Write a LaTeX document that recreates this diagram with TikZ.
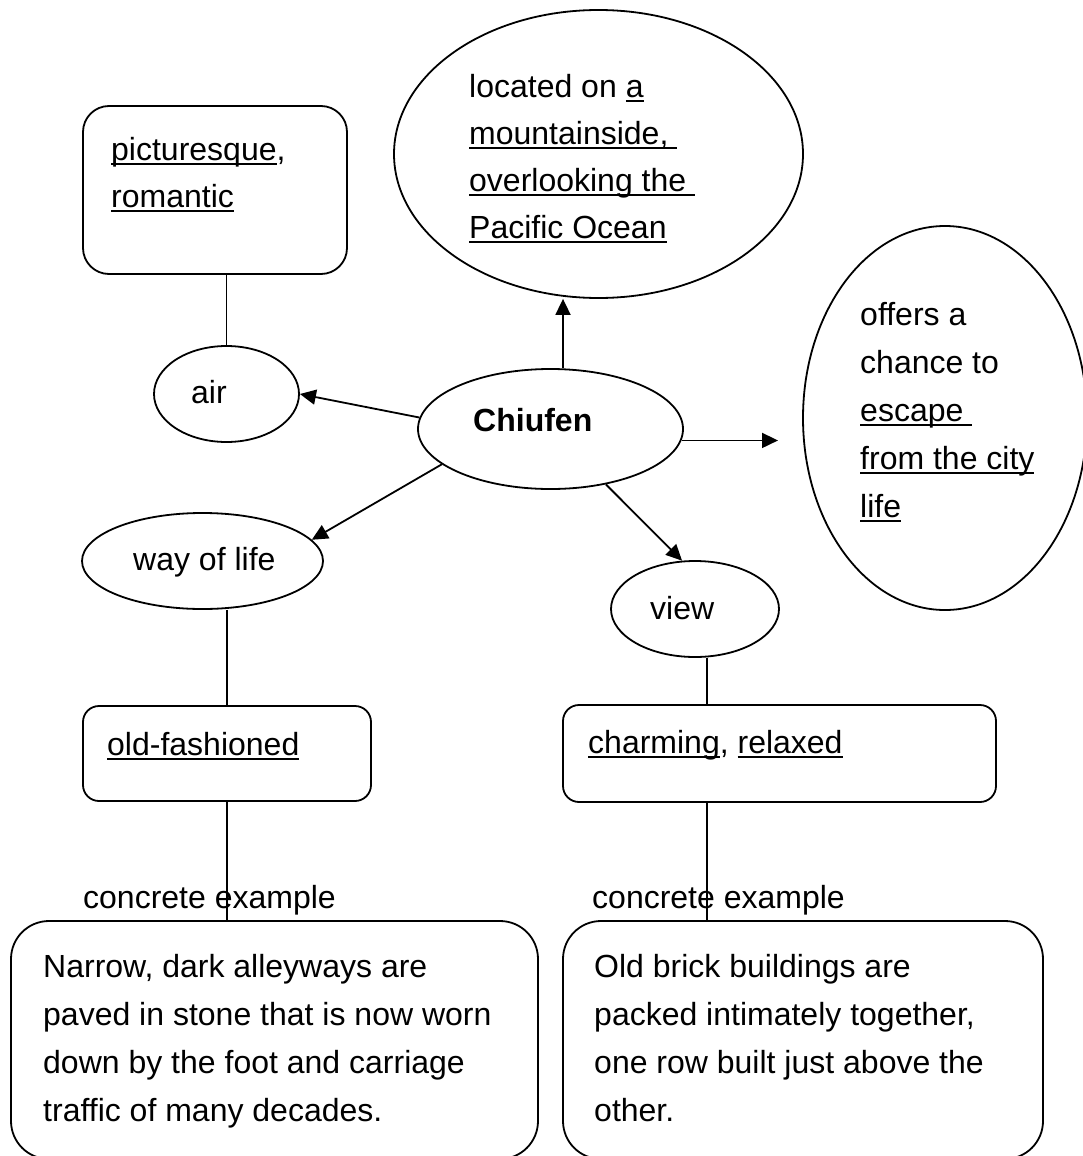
\documentclass[tikz,border=0pt]{standalone}
\usepackage{fontspec}
\setmainfont{Liberation Sans}
\usetikzlibrary{arrows.meta,shapes.geometric}

% underline a word with a rule that runs through the descenders
\newcommand\ulword[1]{\setbox0=\hbox{#1}\rlap{\rule[-5pt]{\wd0}{2pt}}\box0}
% left-aligned block of lines whose reference point is the first baseline
\newcommand\textlines[2]{\vtop{\baselineskip=#1pt\lineskiplimit=-100pt\halign{##\hfil\cr#2\crcr}}}

\tikzset{
  shapeline/.style={draw, line width=1.8pt},
  oval/.style={shapeline, ellipse, inner sep=0pt},
  rbox/.style={shapeline, rectangle, inner sep=0pt},
  txt/.style={anchor=base west, inner sep=0pt, font=\fontsize{32}{48}\selectfont},
  link/.style={line width=1.8pt},
  arr/.style={line width=1.8pt, -{Triangle[length=16pt,width=15pt]}},
}

\begin{document}
\begin{tikzpicture}[x=1pt, y=-1pt]
\useasboundingbox (0,0) rectangle (1083,1156);

% shapes
\node[oval, minimum width=409pt, minimum height=288pt] (loc) at (598.5,154) {};
\node[oval, minimum width=284pt, minimum height=384pt] (esc) at (945,418) {};
\node[oval, minimum width=265pt, minimum height=120pt] (chiufen) at (550.5,429) {};
\node[oval, minimum width=145pt, minimum height=96pt] (air) at (226.5,394) {};
\node[oval, minimum width=241pt, minimum height=96pt] (way) at (202.5,561) {};
\node[oval, minimum width=168pt, minimum height=96pt] (view) at (695,609) {};
\node[rbox, rounded corners=26pt, minimum width=264pt, minimum height=168pt] (pic) at (215,190) {};
\node[rbox, rounded corners=16pt, minimum width=288pt, minimum height=95pt] (old) at (227,753.5) {};
\node[rbox, rounded corners=16pt, minimum width=433pt, minimum height=97pt] (charm) at (779.5,753.5) {};
\node[rbox, rounded corners=38pt, minimum width=527pt, minimum height=238pt] (ex1) at (274.5,1040) {};
\node[rbox, rounded corners=38pt, minimum width=480pt, minimum height=238pt] (ex2) at (803,1040) {};

% texts
\node[txt] (loc-t) at (469,97) {\textlines{47}{located on \ulword{a}\cr
  \ulword{mountainside,\ }\cr \ulword{overlooking the\ }\cr \ulword{Pacific Ocean}}};
\node[txt] (esc-t) at (860,325) {\textlines{48}{offers a\cr chance to\cr
  \ulword{escape\ }\cr \ulword{from the city}\cr \ulword{life}}};
\node[txt] (pic-t) at (111,160) {\textlines{47}{\ulword{picturesque},\cr \ulword{romantic}}};
\node[txt] (air-t) at (191,403) {air};
\node[txt] (chiufen-t) at (473,431) {\bfseries Chiufen};
\node[txt] (way-t) at (133,570) {way of life};
\node[txt] (view-t) at (650,619) {view};
\node[txt] (old-t) at (107,755) {\ulword{old-fashioned}};
\node[txt] (charm-t) at (588,753) {\ulword{charming}, \ulword{relaxed}};
\node[txt] (ce1) at (83,908) {concrete example};
\node[txt] (ce2) at (592,908) {concrete example};
\node[txt] (ex1-t) at (43,977) {\textlines{48.3}{Narrow, dark alleyways are\cr
  paved in stone that is now worn\cr down by the foot and carriage\cr
  traffic of many decades.}};
\node[txt] (ex2-t) at (594,977) {\textlines{48.3}{Old brick buildings are\cr
  packed intimately together,\cr one row built just above the\cr other.}};

% helper coordinates
\coordinate (ux) at (563,0);
\coordinate (vx) at (707,0);
\coordinate (rend) at (778,442);

% plain links
\draw[link] (air.north) -- (air.north |- pic.south);
\draw[link] (old.north) -- (old.north |- way.south);
\draw[link] (old.south) -- (old.south |- ex1.north);
\draw[link] (vx |- view.south) -- (vx |- charm.north);
\draw[link] (vx |- charm.south) -- (vx |- ex2.north);

% arrows from the centre
\draw[arr] (ux |- chiufen.north) -- (ux |- loc.south);
\draw[arr] (chiufen.175) -- (air.east);
\draw[arr] (chiufen.198.5) -- (way.11);
\draw[arr] (chiufen.-5.6) -- (chiufen.-5.6 -| rend);
\draw[arr] (chiufen.-45) -- (view.105);
\end{tikzpicture}
\end{document}
